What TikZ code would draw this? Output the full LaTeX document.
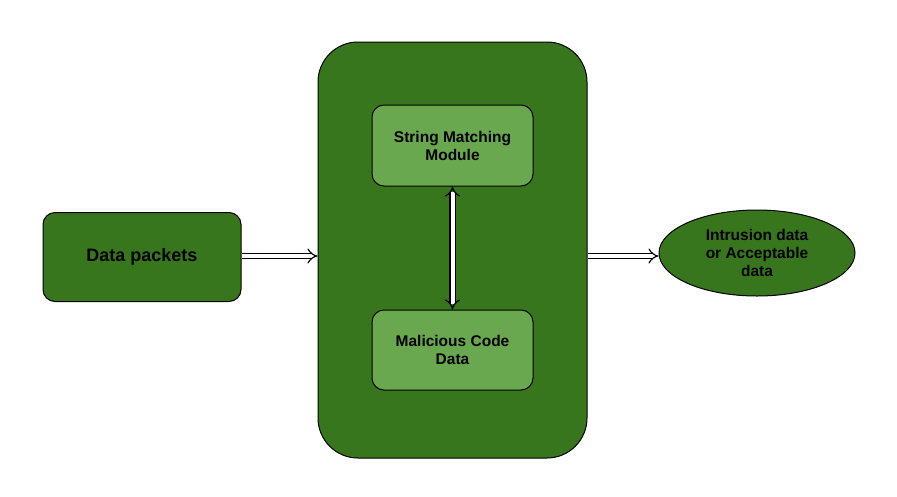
\documentclass[tikz,border=0pt]{standalone}
\usepackage{fontspec}
\setmainfont{Liberation Sans}
\usetikzlibrary{arrows.meta,shapes.geometric}
\definecolor{darkgr}{HTML}{38761D}
\definecolor{lightgr}{HTML}{6AA84F}
\begin{document}
\begin{tikzpicture}[x=1pt,y=-1pt,
  every node/.style={font=\bfseries\fontsize{15.5}{18}\selectfont, text=black, align=center, inner sep=0pt},
  darkbox/.style={draw=black, line width=1pt, fill=darkgr, rounded corners=12pt},
  lightbox/.style={draw=black, line width=1pt, fill=lightgr, rounded corners=12pt},
  tip/.tip={Implies[scale=1.6]},
  flow/.style={draw=black, line width=1.2pt, double=white, double distance=4pt, -tip},
  flowboth/.style={draw=black, line width=1.2pt, double=white, double distance=4pt, tip-tip}]
\useasboundingbox (0,0) rectangle (897,496);
\node[darkbox, rounded corners=40pt, minimum width=269pt, minimum height=416pt] (big) at (452.5,250) {};
\node[darkbox, minimum width=198pt, minimum height=89pt, font=\bfseries\fontsize{18}{21}\selectfont] (dp) at (142,257) {Data packets};
\node[lightbox, minimum width=161pt, minimum height=81pt] (sm) at (452.5,145.5) {String Matching\\Module};
\node[lightbox, minimum width=161pt, minimum height=80pt] (mc) at (452.5,350) {Malicious Code\\Data};
\node[ellipse, draw=black, line width=1pt, fill=darkgr, minimum width=196pt, minimum height=86pt] (out) at (757,253) {Intrusion data\\or Acceptable\\data};
\draw[flow] (dp.east |- 0,256) -- (big.west |- 0,256);
\draw[flow] (big.east |- 0,256) -- (out.west |- 0,256);
\draw[flowboth] (sm.south) -- (mc.north);
\end{tikzpicture}
\end{document}
